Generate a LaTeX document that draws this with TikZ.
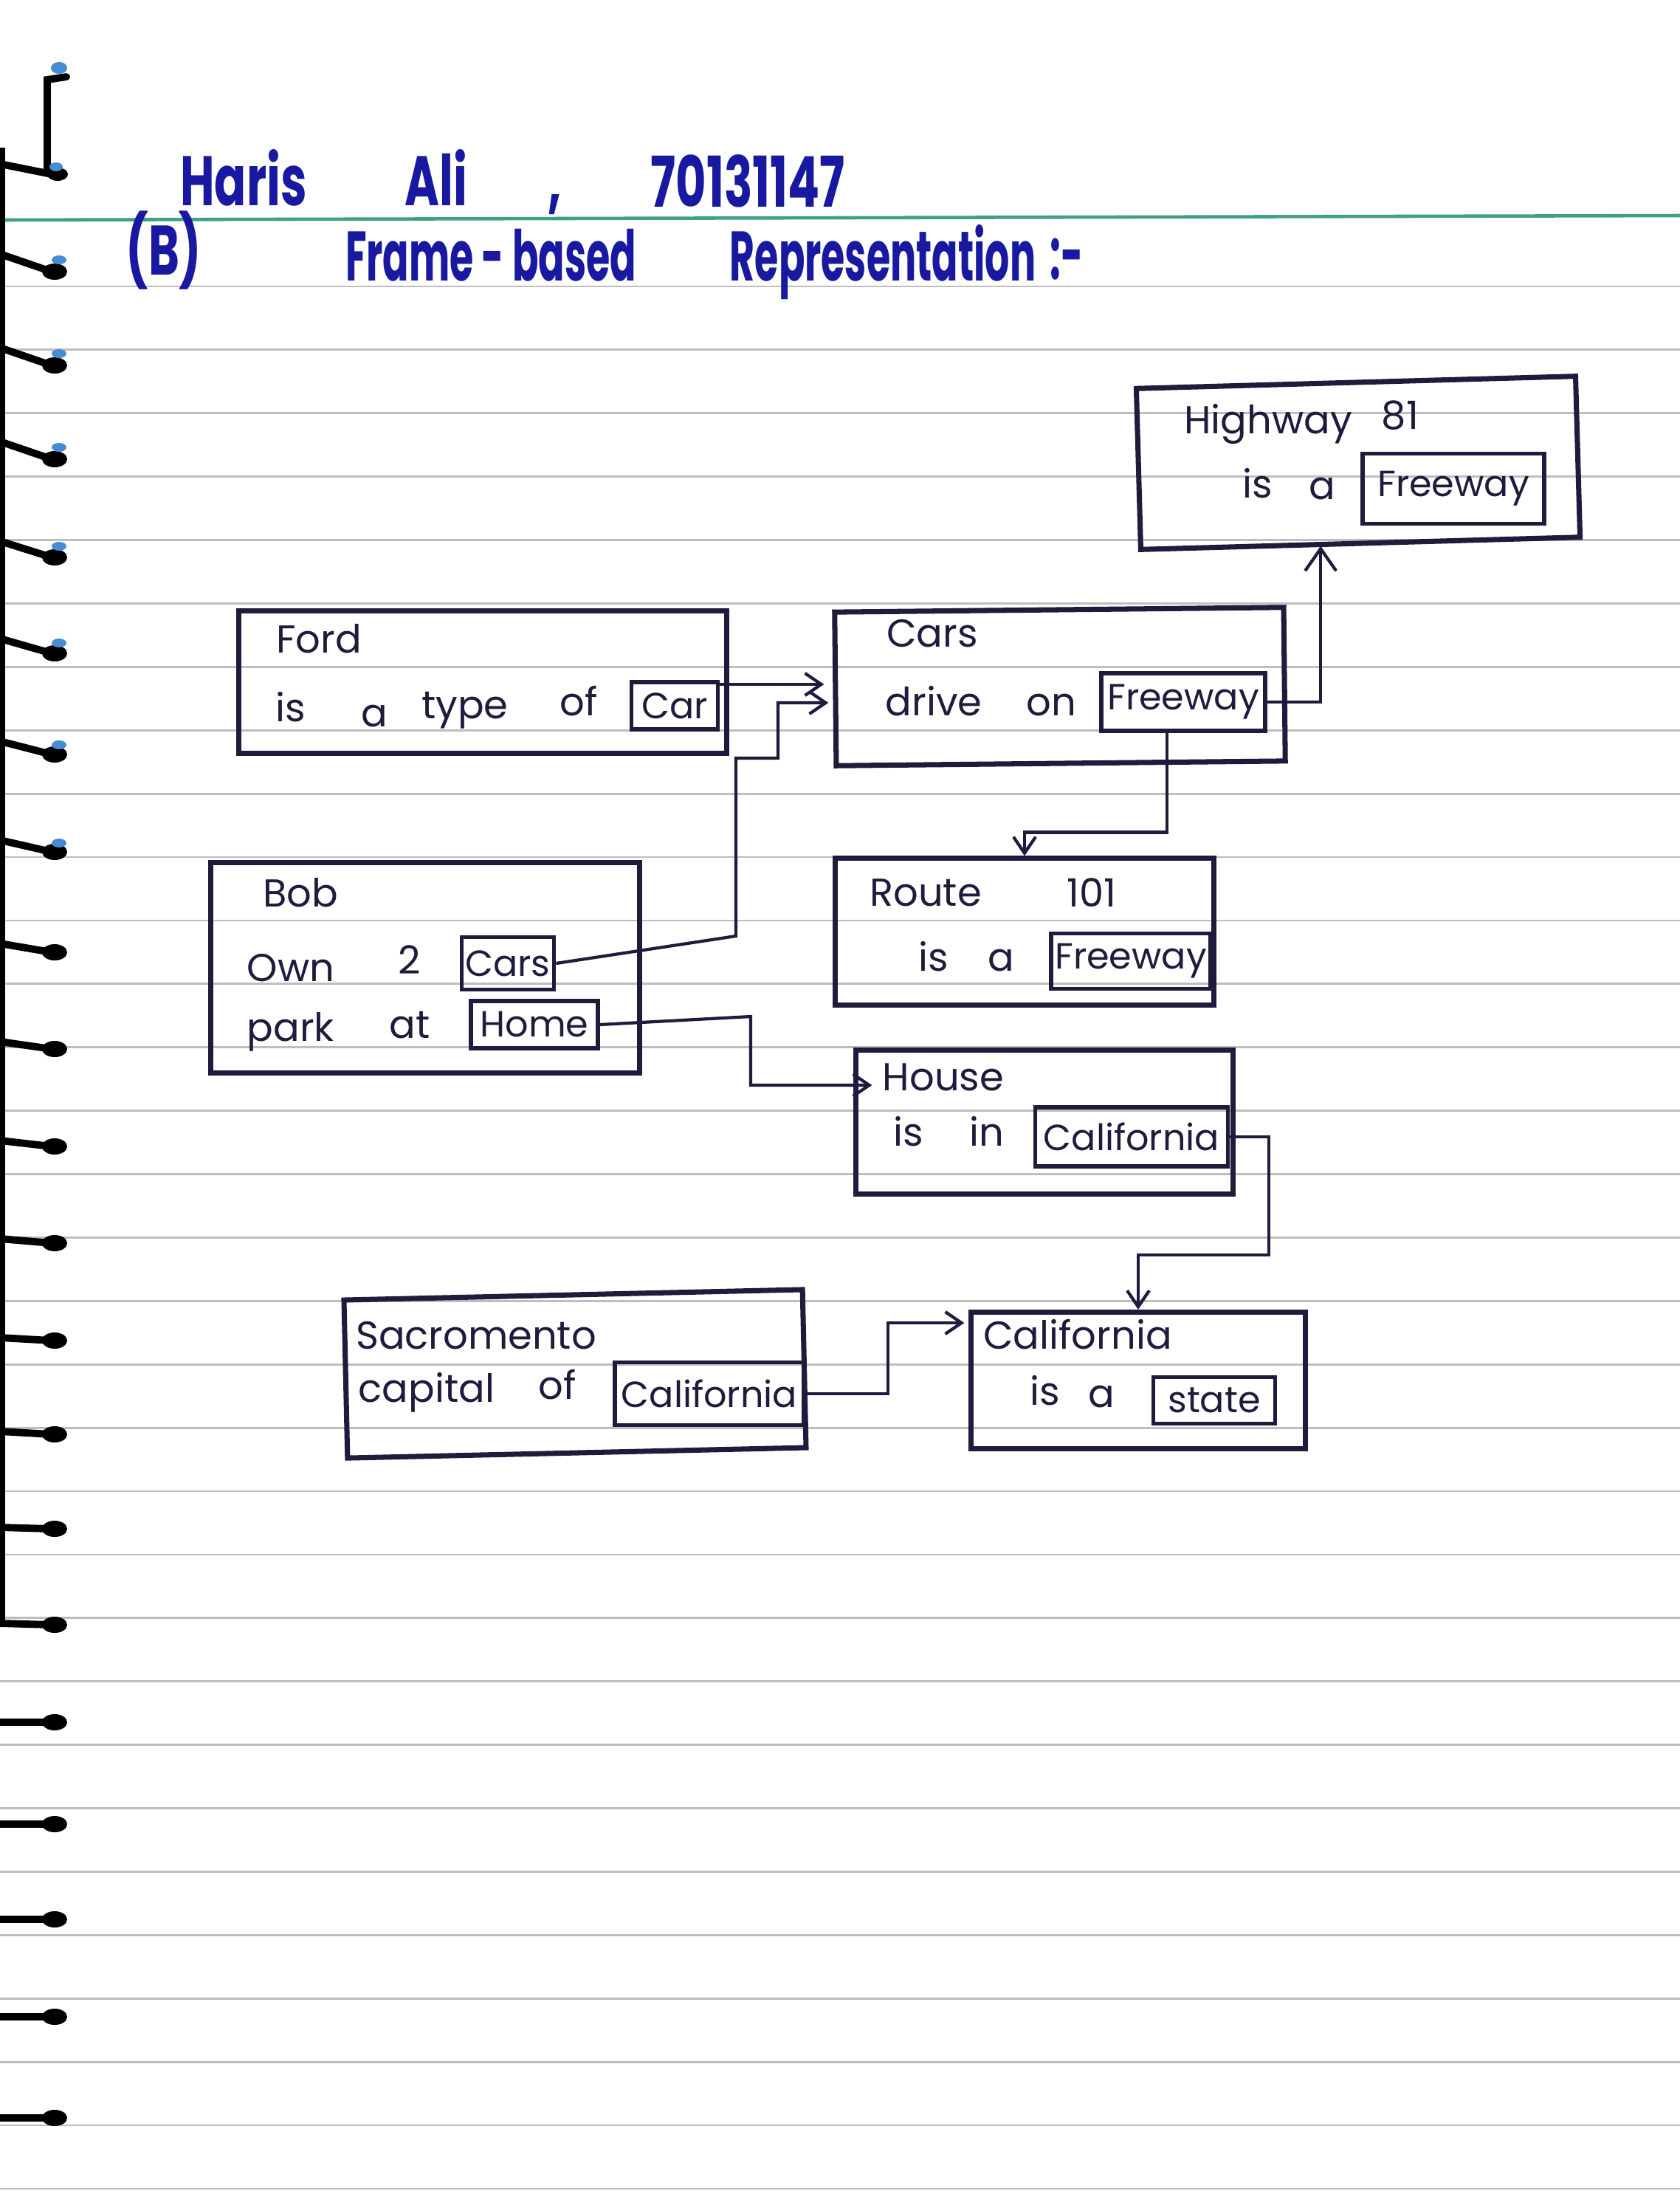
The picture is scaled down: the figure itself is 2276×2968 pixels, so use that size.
\documentclass[tikz,border=0pt]{standalone}
\usepackage{graphicx}
\usepackage{fontspec}
\setmainfont{Poppins}
\usetikzlibrary{arrows.meta,calc}

\definecolor{ink}{RGB}{30,28,60}
\definecolor{marker}{RGB}{24,24,160}
\definecolor{ruling}{RGB}{190,190,190}
\definecolor{headrule}{RGB}{64,160,135}
\definecolor{coilblue}{RGB}{70,140,210}

% tall, narrow marker lettering for the heading
\newcommand\tallword[1]{\scalebox{0.67}[1]{#1}}
\newcommand\slimword[1]{\scalebox{0.55}[1]{#1}}

\begin{document}
\begin{tikzpicture}[x=0.01cm, y=-0.01cm,
  framebox/.style={draw=ink, line width=2pt, inner sep=0pt},
  slot/.style={draw=ink, line width=1.6pt, inner sep=0pt, text=ink, font=\fontsize{14}{16}\selectfont},
  word/.style={text=ink, anchor=mid, inner sep=0pt, font=\fontsize{15}{18}\selectfont},
  titleword/.style={text=marker, anchor=base, inner sep=0pt, font=\fontsize{27}{30}\selectfont\bfseries},
  connector/.style={draw=ink, line width=1.2pt, -{Straight Barb[length=0.22cm,width=0.3cm]}},
  bigconnector/.style={draw=ink, line width=1.2pt, -{Straight Barb[length=0.3cm,width=0.42cm]}},
  coil/.style={line width=2.8pt, line cap=round, black},
]
% paper
\useasboundingbox (0,0) rectangle (2276,2968);
\fill[white] (0,0) rectangle (2276,2968);

% ruled lines
\draw[headrule, line width=1.3pt] (0,298) -- (2276,292);
\foreach \k in {1,...,31} {
  \pgfmathsetmacro\ly{302+85.9*\k}
  \draw[ruling, line width=0.8pt] (0,\ly) -- (2276,\ly);
}

% spiral binding
\draw[black, line width=2.4pt] (3,200) -- (3,2200);
\draw[coil] (90,104) -- (64,108) -- (64,232);
\draw[coil] (0,222) -- (70,236);
\fill[black] (78,236) ellipse (14 and 9);
\fill[coilblue] (80,92) ellipse (11 and 8);
\fill[coilblue] (76,226) ellipse (9 and 6);
\foreach \yy/\dd in {356/12,483/12,610/12,744/11,875/10,1013/9,1146/8,1284/6,1416/5,1549/4,1681/3,1814/2,1941/2,2070/1,2200/1,2333/0,2471/0,2600/0,2732/0,2869/0} {
  \draw[coil] (0,\yy-\dd) -- (70,\yy+\dd);
  \fill[black] (74,\yy+\dd) ellipse (17 and 11);
}
\foreach \yy in {356,483,610,744,875,1013,1146} {
  \fill[coilblue] (80,\yy-4) ellipse (10 and 6);
}

% heading
\node[titleword] (hname) at (330,278) {\tallword{Haris}};
\node[titleword] (hsurname) at (591,278) {\tallword{Ali}};
\node[titleword] (hcomma) at (752,278) {\tallword{,}};
\node[titleword] (hid) at (1013,280) {\tallword{70131147}};
\node[titleword] (hpart) at (222,372) {\tallword{(B)}};
\node[titleword] (htopic) at (665,380) {\slimword{Frame - based}};
\node[titleword] (hrep) at (1196,380) {\slimword{Representation}};
\node[titleword] (hcolon) at (1445,378) {\slimword{:-}};

% frames
\node[framebox, rotate=1.6, minimum width=5.95cm, minimum height=2.18cm] (hw) at (1840,627) {};
\node[framebox, minimum width=6.61cm, minimum height=1.93cm] (ford) at (654,924) {};
\node[framebox, rotate=0.6, minimum width=6.08cm, minimum height=2.08cm] (cars) at (1436,930) {};
\node[framebox, minimum width=5.80cm, minimum height=2.84cm] (bob) at (576,1311) {};
\node[framebox, minimum width=5.13cm, minimum height=1.98cm] (route) at (1388,1262) {};
\node[framebox, minimum width=5.10cm, minimum height=1.95cm] (house) at (1415,1520) {};
\node[framebox, rotate=1.3, minimum width=6.21cm, minimum height=2.14cm] (sac) at (779,1861) {};
\node[framebox, minimum width=4.52cm, minimum height=1.85cm] (cal) at (1542,1870) {};

% slot values
\node[slot, minimum width=2.46cm, minimum height=0.95cm] (hwfree) at (1969,662) {Freeway};
\node[slot, minimum width=1.17cm, minimum height=0.64cm] (fordcar) at (914,956) {Car};
\node[slot, minimum width=2.22cm, minimum height=0.78cm] (carsfree) at (1603,951) {Freeway};
\node[slot, minimum width=1.25cm, minimum height=0.71cm] (bobcars) at (688,1305) {Cars};
\node[slot, minimum width=1.72cm, minimum height=0.64cm] (bobhome) at (724,1388) {Home};
\node[slot, minimum width=2.16cm, minimum height=0.75cm] (routefree) at (1532,1302) {Freeway};
\node[slot, minimum width=2.61cm, minimum height=0.80cm] (housecal) at (1533,1540) {California};
\node[slot, minimum width=2.56cm, minimum height=0.85cm] (saccal) at (961,1888) {California};
\node[slot, minimum width=1.65cm, minimum height=0.63cm] (calstate) at (1645,1897) {state};

% frame names and slot labels
\node[word] (hwname) at (1718,578) {Highway};
\node[word] (hwnum) at (1897,572) {81};
\node[word] (hwis) at (1704,665) {is};
\node[word] (hwa) at (1791,667) {a};

\node[word] (fordname) at (432,875) {Ford};
\node[word] (fordis) at (394,968) {is};
\node[word] (forda) at (507,975) {a};
\node[word] (fordtype) at (630,964) {type};
\node[word] (fordof) at (784,960) {of};

\node[word] (carsname) at (1263,867) {Cars};
\node[word] (carsdrive) at (1265,960) {drive};
\node[word] (carson) at (1424,960) {on};

\node[word] (bobname) at (407,1219) {Bob};
\node[word] (bobown) at (394,1320) {Own};
\node[word] (bobtwo) at (555,1310) {2};
\node[word] (bobpark) at (394,1401) {park};
\node[word] (bobat) at (555,1397) {at};

\node[word] (routename) at (1254,1218) {Route};
\node[word] (routenum) at (1479,1219) {101};
\node[word] (routeis) at (1265,1306) {is};
\node[word] (routea) at (1356,1306) {a};

\node[word] (housename) at (1278,1468) {House};
\node[word] (houseis) at (1231,1543) {is};
\node[word] (housein) at (1337,1543) {in};

\node[word] (calname) at (1460,1818) {California};
\node[word] (calis) at (1416,1894) {is};
\node[word] (cala) at (1492,1897) {a};

\node[word] (sacname) at (645,1818) {Sacromento};
\node[word] (saccap) at (578,1890) {capital};
\node[word] (sacof) at (755,1886) {of};

% bend points of the connectors
\coordinate (fordfeed) at (0,927);
\coordinate (bobturn) at (997,1268);
\coordinate (bobstep) at (1054,1027);
\coordinate (bobfeed) at (0,952);
\coordinate (hometurn) at (1017,1377);
\coordinate (calturn) at (1719,1700);
\coordinate (sacturn) at (1203,1792);

% connectors
\draw[connector] (fordcar.east |- fordfeed) -- ($(cars.west |- fordfeed)+(-12,0)$);
\draw[connector] (bobcars.east) -- (bobturn) |- (bobstep) |- ($(cars.west |- bobfeed)+(-6,0)$);
\draw[bigconnector] (carsfree.east) -| ($(hw.south)+(-54,0)$);
\draw[connector] ($(carsfree.south)+(-22,0)$) |- ($(route.north)+(0,-32)$) -- (route.north);
\draw[connector] (bobhome.east) -- (hometurn) |- ($(house.west)+(25,-50)$);
\draw[connector] (housecal.east) -| (calturn) -| (cal.north);
\draw[connector] (saccal.east) -| (sacturn) -- ($(sacturn -| cal.west)+(-6,0)$);
\end{tikzpicture}
\end{document}
